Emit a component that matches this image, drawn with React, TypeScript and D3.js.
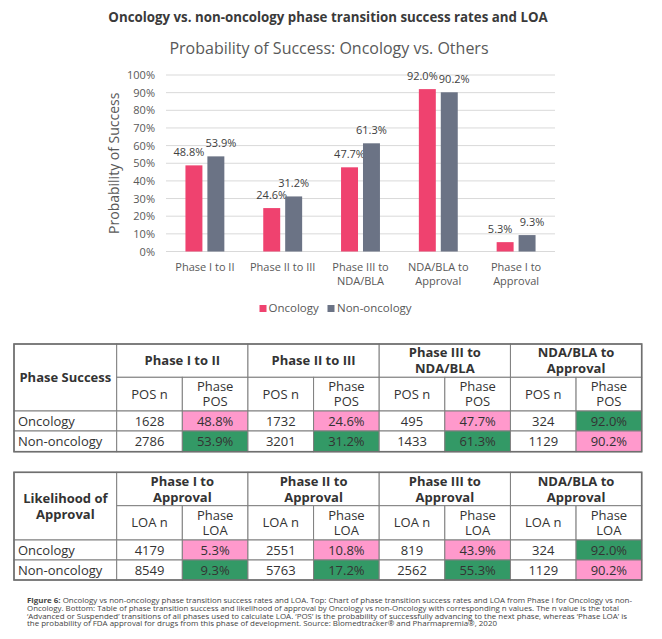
import * as d3 from "d3";
import React from "react";

// ---- chart data ----
const CATEGORIES = [
  ["Phase I to II"],
  ["Phase II to III"],
  ["Phase III to", "NDA/BLA"],
  ["NDA/BLA to", "Approval"],
  ["Phase I to", "Approval"],
];
const SERIES = ["Oncology", "Non-oncology"];
const ONCOLOGY = [48.8, 24.6, 47.7, 92.0, 5.3];
const NON_ONCOLOGY = [53.9, 31.2, 61.3, 90.2, 9.3];
const Y_TICKS = [0, 10, 20, 30, 40, 50, 60, 70, 80, 90, 100];

// ---- table data ----
const POS_HEADERS = [["Phase I to II"], ["Phase II to III"], ["Phase III to", "NDA/BLA"], ["NDA/BLA to", "Approval"]];
const POS_ONC_N = [1628, 1732, 495, 324];
const POS_ONC = [48.8, 24.6, 47.7, 92.0];
const POS_NON_N = [2786, 3201, 1433, 1129];
const POS_NON = [53.9, 31.2, 61.3, 90.2];

const LOA_HEADERS = [["Phase I to", "Approval"], ["Phase II to", "Approval"], ["Phase III to", "Approval"], ["NDA/BLA to", "Approval"]];
const LOA_ONC_N = [4179, 2551, 819, 324];
const LOA_ONC = [5.3, 10.8, 43.9, 92.0];
const LOA_NON_N = [8549, 5763, 2562, 1129];
const LOA_NON = [9.3, 17.2, 55.3, 90.2];

const CAPTION = [
  "Oncology vs non-oncology phase transition success rates and LOA. Top: Chart of phase transition success rates and LOA from Phase I for Oncology vs non-",
  "Oncology. Bottom: Table of phase transition success and likelihood of approval by Oncology vs non-Oncology with corresponding n values. The n value is the total",
  "\u2018Advanced or Suspended\u2019 transitions of all phases used to calculate LOA. \u2018POS\u2019 is the probability of successfully advancing to the next phase, whereas \u2018Phase LOA\u2019 is",
  "the probability of FDA approval for drugs from this phase of development. Source: Biomedtracker\u00ae and Pharmapremia\u00ae, 2020",
];
const CAPTION_WIDTHS = [605, 592, 600, 470];

const W = 662;
const H = 639;
const FONT = "'Open Sans', 'Noto Sans', sans-serif";
const PINK = "#ef426f";
const GREY = "#6b7385";
const CELL_PINK = "#ff99cc";
const CELL_GREEN = "#339966";
const TXT = "#333";
const AXIS_TXT = "#595959";

function Table({
  top,
  rowH,
  corner,
  headers,
  sub,
  oncN,
  onc,
  nonN,
  non,
}: {
  top: number;
  rowH: number[];
  corner: string[];
  headers: string[][];
  sub: [string, string[]];
  oncN: number[];
  onc: number[];
  nonN: number[];
  non: number[];
}) {
  const x0 = 14;
  const firstW = 102.7;
  const right = 641.7;
  const col = d3.scaleBand<number>().domain(d3.range(8)).range([x0 + firstW, right]);
  const rows = [top];
  rowH.forEach((h, i) => rows.push(rows[i] + h));
  const border = "#7f7f7f";
  const cw = col.bandwidth();
  const dataRows = [
    { label: "Oncology", n: oncN, v: onc, other: non },
    { label: "Non-oncology", n: nonN, v: non, other: onc },
  ];
  const cornerMid = (rows[0] + rows[2]) / 2;
  return (
    <g fontFamily={FONT} fill={TXT}>
      {/* corner cell */}
      <rect x={x0} y={rows[0]} width={firstW} height={rows[2] - rows[0]} fill="#fff" stroke={border} />
      {corner.map((t, i) => (
        <text key={i} x={x0 + firstW / 2} y={cornerMid + (i - (corner.length - 1) / 2) * 16 + 4.5}
          textAnchor="middle" fontWeight={700} fontSize={13}>{t}</text>
      ))}
      {headers.map((h, gi) => {
        const gx = col(gi * 2)!;
        const mid = (rows[0] + rows[1]) / 2;
        return (
          <g key={gi}>
            <rect x={gx} y={rows[0]} width={cw * 2} height={rows[1] - rows[0]} fill="#fff" stroke={border} />
            {h.map((t, i) => (
              <text key={i} x={gx + cw} y={mid + (i - (h.length - 1) / 2) * 16 + 4.5}
                textAnchor="middle" fontWeight={700} fontSize={13}>{t}</text>
            ))}
            {[0, 1].map((k) => {
              const cx = col(gi * 2 + k)!;
              const m2 = (rows[1] + rows[2]) / 2;
              const lines = k === 0 ? [sub[0]] : sub[1];
              return (
                <g key={k}>
                  <rect x={cx} y={rows[1]} width={cw} height={rows[2] - rows[1]} fill="#fff" stroke={border} />
                  {lines.map((t, i) => (
                    <text key={i} x={cx + cw / 2} y={m2 + (i - (lines.length - 1) / 2) * 15 + 4.5}
                      textAnchor="middle" fontSize={13}>{t}</text>
                  ))}
                </g>
              );
            })}
          </g>
        );
      })}
      {dataRows.map((r, ri) => {
        const y = rows[2 + ri];
        const h = rows[3 + ri] - y;
        return (
          <g key={ri}>
            <rect x={x0} y={y} width={firstW} height={h} fill="#fff" stroke={border} />
            <text x={x0 + 4} y={y + h / 2 + 4.5} fontSize={13}>{r.label}</text>
            {r.n.map((n, gi) => {
              const cx = col(gi * 2)!;
              const px = col(gi * 2 + 1)!;
              const hi = r.v[gi] >= r.other[gi];
              return (
                <g key={gi}>
                  <rect x={cx} y={y} width={cw} height={h} fill="#fff" stroke={border} />
                  <text x={cx + cw / 2} y={y + h / 2 + 4.5} textAnchor="middle" fontSize={13}>{n}</text>
                  <rect x={px} y={y} width={cw} height={h} fill={hi ? CELL_GREEN : CELL_PINK} stroke={border} />
                  <text x={px + cw / 2} y={y + h / 2 + 4.5} textAnchor="middle" fontSize={13}>
                    {r.v[gi].toFixed(1)}%
                  </text>
                </g>
              );
            })}
          </g>
        );
      })}
      <rect x={x0} y={rows[0]} width={right - x0} height={rows[rows.length - 1] - rows[0]}
        fill="none" stroke="#6f6f6f" strokeWidth={1.6} />
    </g>
  );
}

export default function App() {
  const plotL = 166;
  const plotR = 555;
  const x = d3.scaleBand<number>().domain(d3.range(CATEGORIES.length)).range([plotL, plotR])
    .paddingInner(0.5).paddingOuter(0.25);
  const xs = d3.scaleBand<string>().domain(SERIES).range([0, x.bandwidth()]).paddingInner(0.227);
  const y = d3.scaleLinear().domain([0, 100]).range([251.5, 75]);
  const values = [ONCOLOGY, NON_ONCOLOGY];
  const colors = [PINK, GREY];

  return (
    <svg width={W} height={H} viewBox={`0 0 ${W} ${H}`}
      style={{ position: "absolute", left: 0, top: 0, background: "#fff" }}>
      <rect width={W} height={H} fill="#fff" />
      <text x={328} y={22} textAnchor="middle" fontFamily={FONT} fontWeight={700} fontSize={13.3} fill="#3a3a3a">
        Oncology vs. non-oncology phase transition success rates and LOA
      </text>
      <text x={329} y={54} textAnchor="middle" fontFamily={FONT} fontSize={16} fill={AXIS_TXT}>
        Probability of Success: Oncology vs. Others
      </text>

      {/* grid + y ticks */}
      <g fontFamily={FONT} fontSize={11} fill={AXIS_TXT}>
        {Y_TICKS.map((t) => (
          <g key={t}>
            <line x1={plotL} x2={plotR} y1={y(t)} y2={y(t)} stroke="#d9d9d9" strokeWidth={1} />
            <text x={155} y={y(t) + 4} textAnchor="end">{t}%</text>
          </g>
        ))}
      </g>
      <text transform={`translate(119,${(y(0) + y(100)) / 2}) rotate(-90)`} textAnchor="middle"
        fontFamily={FONT} fontSize={14} fill={AXIS_TXT}>Probability of Success</text>

      {/* bars */}
      {CATEGORIES.map((_, ci) => {
        const diff = Math.abs(ONCOLOGY[ci] - NON_ONCOLOGY[ci]);
        return (
          <g key={ci}>
            {SERIES.map((s, si) => {
              const v = values[si][ci];
              const bx = x(ci)! + xs(s)!;
              const dx = diff < 6 ? (si === 0 ? -5 : 5) : 0;
              return (
                <g key={s}>
                  <rect x={bx} y={y(v)} width={xs.bandwidth()} height={y(0) - y(v)} fill={colors[si]} />
                  <text x={bx + xs.bandwidth() / 2 + dx} y={y(v) - 9} textAnchor="middle"
                    fontFamily={FONT} fontSize={11} fill="#404040">{v.toFixed(1)}%</text>
                </g>
              );
            })}
          </g>
        );
      })}

      {/* category labels */}
      <g fontFamily={FONT} fontSize={11} fill={AXIS_TXT} textAnchor="middle">
        {CATEGORIES.map((lines, ci) => (
          <text key={ci} x={x(ci)! + x.bandwidth() / 2} y={271}>
            {lines.map((l, i) => (
              <tspan key={i} x={x(ci)! + x.bandwidth() / 2} dy={i === 0 ? 0 : 14}>{l}</tspan>
            ))}
          </text>
        ))}
      </g>

      {/* legend */}
      <g fontFamily={FONT} fontSize={11.5} fill={AXIS_TXT}>
        <rect x={259.5} y={305} width={7} height={7} fill={PINK} />
        <text x={268.5} y={312.3}>{SERIES[0]}</text>
        <rect x={327.5} y={305} width={7} height={7} fill={GREY} />
        <text x={337} y={312.3}>{SERIES[1]}</text>
      </g>

      <Table top={344} rowH={[33.3, 33.7, 20, 20.7]} corner={["Phase Success"]} headers={POS_HEADERS}
        sub={["POS n", ["Phase", "POS"]]} oncN={POS_ONC_N} onc={POS_ONC} nonN={POS_NON_N} non={POS_NON} />
      <Table top={472.3} rowH={[33.4, 34.3, 20, 20]} corner={["Likelihood of", "Approval"]} headers={LOA_HEADERS}
        sub={["LOA n", ["Phase", "LOA"]]} oncN={LOA_ONC_N} onc={LOA_ONC} nonN={LOA_NON_N} non={LOA_NON} />

      {/* caption */}
      <g fontFamily={FONT} fontSize={7.4} fill="#444">
        {CAPTION.map((line, i) => (
          <text key={i} x={27} y={603 + i * 7.8} textLength={CAPTION_WIDTHS[i]} lengthAdjust="spacingAndGlyphs">
            {i === 0 && <tspan fontWeight={700}>Figure 6: </tspan>}
            {line}
          </text>
        ))}
      </g>
    </svg>
  );
}
